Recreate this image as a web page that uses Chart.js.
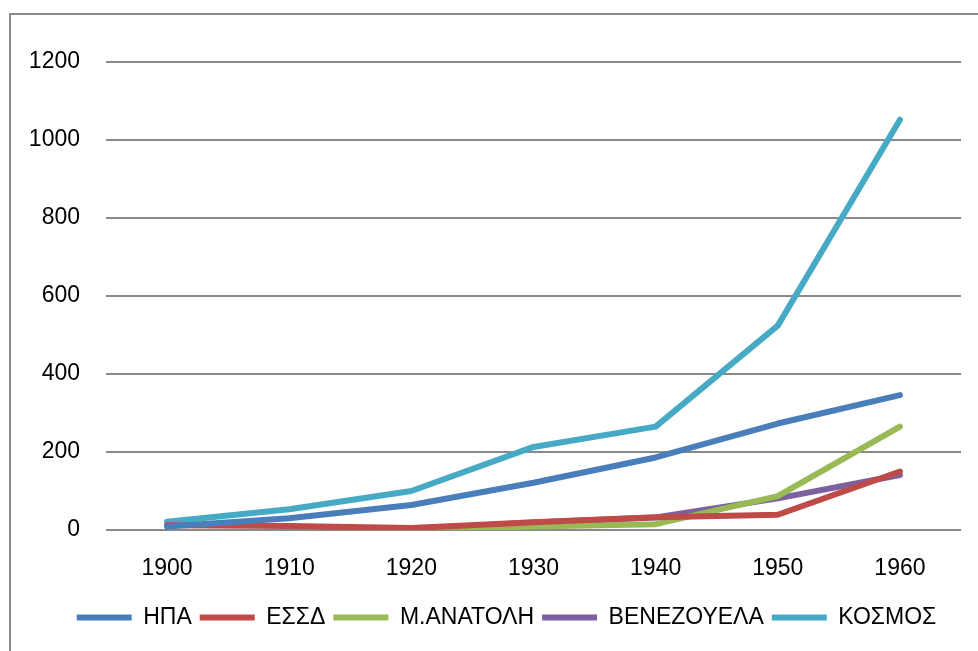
<!DOCTYPE html>
<html lang="el">
<head>
    <meta charset="UTF-8">
    <title>Παραγωγή πετρελαίου 1900-1960</title>
    <script src="https://cdn.jsdelivr.net/npm/chart.js"></script>
    <style>
        body {
            margin: 0;
            padding: 0;
            background: white;
            overflow: hidden;
        }
        .wrap {
            position: relative;
            width: 978px;
            height: 651px;
        }
        .frame {
            position: absolute;
            left: 9px;
            top: 13px;
            right: 0;
            bottom: 0;
            border-left: 2px solid #898989;
            border-top: 2px solid #898989;
            pointer-events: none;
        }
    </style>
</head>
<body>
    <div class="wrap">
        <canvas id="oilChart" width="978" height="651"></canvas>
        <div class="frame"></div>
    </div>

    <script>
        const years = ['1900', '1910', '1920', '1930', '1940', '1950', '1960'];
        const hpa = [9, 30, 64, 121, 186, 273, 346];
        const essd = [12, 10, 5, 20, 33, 39, 150];
        const anatoli = [null, null, 1, 9, 15, 87, 265];
        const venezuela = [null, null, 2, 19, 32, 81, 141];
        const kosmos = [21, 53, 100, 213, 265, 524, 1052];
        const yTicks = [0, 200, 400, 600, 800, 1000, 1200];

        const font = { family: "'Liberation Sans', Arial, sans-serif", size: 23 };

        function serie(label, data, color) {
            return {
                label: label,
                data: data,
                borderColor: color,
                backgroundColor: color,
                borderWidth: 6,
                borderCapStyle: 'round',
                borderJoinStyle: 'round',
                pointRadius: 0,
                tension: 0,
                spanGaps: false
            };
        }

        // move the legend a bit to the right, like in the original
        const legendShift = {
            id: 'legendShift',
            afterLayout(chart) {
                chart.legend.left += 26;
                chart.legend.right += 26;
            }
        };

        const ctx = document.getElementById('oilChart').getContext('2d');
        new Chart(ctx, {
            type: 'line',
            data: {
                labels: years,
                datasets: [
                    serie('ΗΠΑ', hpa, '#4A7EBB'),
                    serie('ΕΣΣΔ', essd, '#BE4B48'),
                    serie('Μ.ΑΝΑΤΟΛΗ', anatoli, '#98B954'),
                    serie('ΒΕΝΕΖΟΥΕΛΑ', venezuela, '#7D60A0'),
                    serie('ΚΟΣΜΟΣ', kosmos, '#46AAC5')
                ]
            },
            plugins: [legendShift],
            options: {
                responsive: false,
                animation: false,
                layout: {
                    padding: { top: 62, right: 17, left: 0, bottom: 12 }
                },
                scales: {
                    x: {
                        offset: true,
                        grid: { display: false, drawTicks: false },
                        border: { display: false },
                        ticks: { color: '#000', font: font, padding: 25, maxRotation: 0 },
                        afterFit: function(scale) { scale.height = 68; }
                    },
                    y: {
                        min: 0,
                        max: 1200,
                        afterBuildTicks: function(scale) {
                            scale.ticks = yTicks.map(v => ({ value: v }));
                        },
                        grid: { color: '#898989', lineWidth: 2, drawTicks: false },
                        border: { display: false },
                        ticks: {
                            color: '#000',
                            font: font,
                            padding: 26,
                            callback: function(v) { return String(v); }
                        },
                        afterFit: function(scale) { scale.width = 106; }
                    }
                },
                plugins: {
                    tooltip: { enabled: false },
                    legend: {
                        position: 'bottom',
                        labels: {
                            color: '#000',
                            font: font,
                            usePointStyle: true,
                            pointStyle: 'line',
                            pointStyleWidth: 55,
                            boxHeight: 6,
                            padding: 8
                        }
                    }
                }
            }
        });
    </script>
</body>
</html>
